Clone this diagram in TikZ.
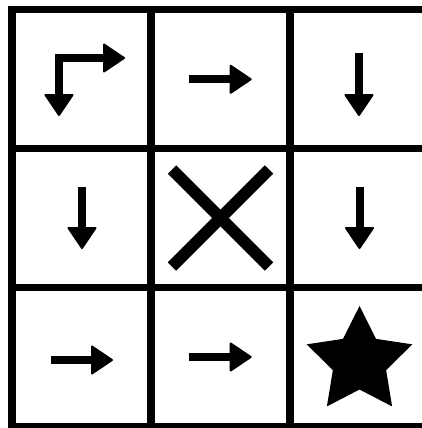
\documentclass[tikz,border=0pt]{standalone}

\tikzset{
  gridline/.style={line width=7.5pt},
  shaft/.style={line width=8pt,shorten >=15pt},
  tiphead/.style={line width=2pt,line join=round,fill},
  blockmark/.style={line width=12pt},
}
% Filled arrow heads, tip at the given coordinate.
\newcommand{\tipright}[1]{\filldraw[tiphead] (#1) -- ++(-20,-13.5) -- ++(0,27) -- cycle;}
\newcommand{\tipdown}[1]{\filldraw[tiphead] (#1) -- ++(-13.5,-20) -- ++(27,0) -- cycle;}

\begin{document}
\begin{tikzpicture}[x=1pt,y=-1pt,line join=miter]
  % Match the artwork frame; the grid runs off the right and bottom edges.
  \useasboundingbox (0,0) rectangle (422.000,428.000);

  % Outer frame and inner grid lines, cells are 139 wide.
  \draw[gridline] (12.000,9.500) rectangle (429.000,426.500);
  \foreach \x in {151.000,290.000} {
    \draw[gridline] (\x,9.500) -- (\x,426.500);
  }
  \foreach \y in {148.500,287.500} {
    \draw[gridline] (12.000,\y) -- (429.000,\y);
  }

  % Arrow end points, one pair per cell.
  \coordinate (turnd) at (59.000,115.000);
  \coordinate (turnc) at (59.000,58.000);
  \coordinate (turnr) at (124.000,58.000);
  \coordinate (r01a) at (189.300,79.300);
  \coordinate (r01b) at (250.700,79.300);
  \coordinate (d02a) at (359.000,53.300);
  \coordinate (d02b) at (359.000,115.000);
  \coordinate (d10a) at (82.000,187.000);
  \coordinate (d10b) at (82.000,248.000);
  \coordinate (d12a) at (359.500,187.000);
  \coordinate (d12b) at (359.500,248.000);
  \coordinate (r20a) at (51.000,360.000);
  \coordinate (r20b) at (112.000,360.000);
  \coordinate (r21a) at (189.300,357.000);
  \coordinate (r21b) at (250.700,357.000);

  % Corner cell has the bent two-headed arrow.
  \draw[line width=8pt,shorten <=15pt,shorten >=15pt] (turnd) -- (turnc) -- (turnr);
  \tipdown{turnd}
  \tipright{turnr}

  \foreach \a/\b in {r01a/r01b,r20a/r20b,r21a/r21b} {
    \draw[shaft] (\a) -- (\b);
    \tipright{\b}
  }
  \foreach \a/\b in {d02a/d02b,d10a/d10b,d12a/d12b} {
    \draw[shaft] (\a) -- (\b);
    \tipdown{\b}
  }

  % Blocked centre cell.
  \coordinate (xtl) at (172.000,169.500);
  \coordinate (xbr) at (269.000,266.500);
  \coordinate (xtr) at (269.000,169.500);
  \coordinate (xbl) at (172.000,266.500);
  \draw[blockmark] (xtl) -- (xbr);
  \draw[blockmark] (xtr) -- (xbl);

  % Goal star, outer radius 55.5 and inner radius 28.
  \begin{scope}[shift={(359.500,361.500)}]
    \fill (-90:55.5) \foreach \a in {-90,-18,54,126,198} { -- (\a+36:28) -- (\a+72:55.5) } -- cycle;
  \end{scope}
\end{tikzpicture}
\end{document}
